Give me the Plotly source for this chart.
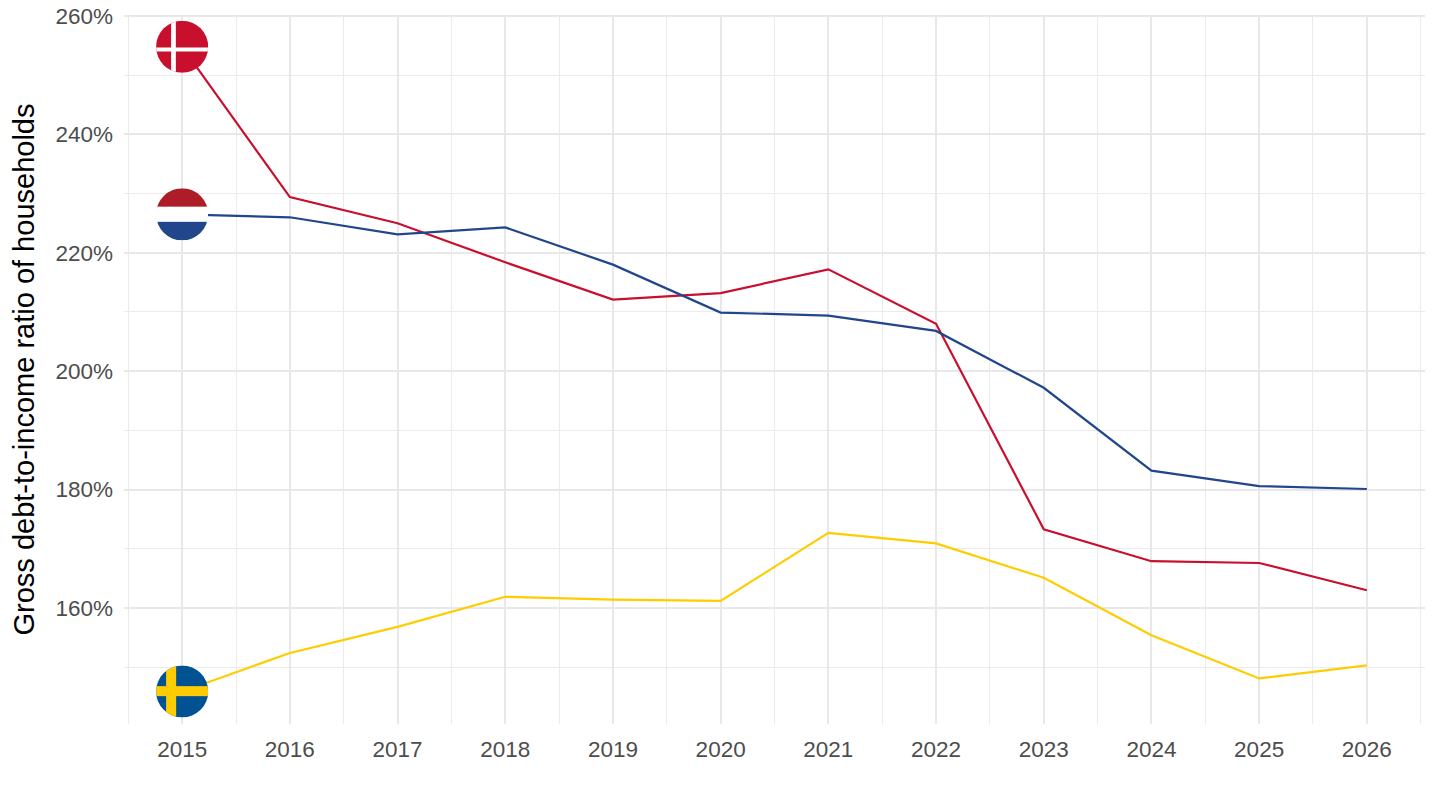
import base64
import plotly.graph_objects as go

years = [2015, 2016, 2017, 2018, 2019, 2020, 2021, 2022, 2023, 2024, 2025, 2026]
denmark = [254.8, 229.4, 225.0, 218.4, 212.1, 213.2, 217.2, 208.0, 173.3, 167.9, 167.6, 163.0]
netherlands = [226.5, 226.0, 223.1, 224.3, 218.0, 209.9, 209.4, 206.8, 197.2, 183.2, 180.6, 180.1]
sweden = [145.9, 152.4, 156.8, 161.9, 161.4, 161.2, 172.7, 170.9, 165.1, 155.4, 148.1, 150.3]

series_names = ["Denmark", "Netherlands", "Sweden"]
line_colors = ["#C8102E", "#21468B", "#FFCC00"]
y_ticks = [160, 180, 200, 220, 240, 260]
y_tick_text = ["160%", "180%", "200%", "220%", "240%", "260%"]
y_title = "Gross debt-to-income ratio of households"

def svg_uri(body):
    svg = ('<svg xmlns="http://www.w3.org/2000/svg" width="52" height="52" viewBox="0 0 52 52">'
           '<defs><clipPath id="c"><circle cx="26" cy="26" r="26"/></clipPath></defs>'
           '<g clip-path="url(#c)">' + body + '</g></svg>')
    return "data:image/svg+xml;base64," + base64.b64encode(svg.encode()).decode()

flag_dk = svg_uri('<rect width="52" height="52" fill="#C8102E"/>'
                  '<rect x="15" y="0" width="4.7" height="52" fill="#fff"/>'
                  '<rect x="0" y="26.7" width="52" height="4" fill="#fff"/>')
flag_nl = svg_uri('<rect width="52" height="18.5" fill="#AE1C28"/>'
                  '<rect y="18.5" width="52" height="15" fill="#fff"/>'
                  '<rect y="33.5" width="52" height="18.5" fill="#21468B"/>')
flag_se = svg_uri('<rect width="52" height="52" fill="#005293"/>'
                  '<rect x="10" y="0" width="10" height="52" fill="#FECC00"/>'
                  '<rect x="0" y="20.7" width="52" height="10" fill="#FECC00"/>')
flags = [flag_dk, flag_nl, flag_se]

fig = go.Figure()
all_series = [denmark, netherlands, sweden]
for name, vals, col in zip(series_names, all_series, line_colors):
    fig.add_trace(go.Scatter(x=years, y=vals, mode="lines", name=name,
                             line=dict(color=col, width=2.2), showlegend=False))

for vals, src in zip(all_series, flags):
    fig.add_layout_image(dict(source=src, xref="x", yref="y", x=years[0], y=vals[0],
                              sizex=0.484, sizey=8.8, xanchor="center", yanchor="middle",
                              sizing="stretch", layer="above"))

fig.update_layout(
    width=1440, height=810,
    margin=dict(l=124, r=15, t=15, b=86, autoexpand=False),
    paper_bgcolor="white", plot_bgcolor="white",
    font=dict(family="Liberation Sans, Arial, sans-serif", color="#4d4d4d", size=22.5),
)
fig.update_xaxes(range=[2014.46, 2026.54], tickmode="array", tickvals=years,
                 ticktext=[str(y) for y in years], automargin=False,
                 showgrid=True, gridcolor="#e8e8e8", gridwidth=2,
                 minor=dict(dtick=0.5, tick0=2014.5, showgrid=True, gridcolor="#ebebeb", gridwidth=1),
                 zeroline=False, showline=False, ticks="", ticklabelstandoff=9,
                 ticklabeloverflow="allow",
                 tickfont=dict(size=22.5, color="#4d4d4d"))
fig.update_yaxes(range=[140.4, 260.17], tickmode="array", tickvals=y_ticks, ticktext=y_tick_text,
                 automargin=False,
                 showgrid=True, gridcolor="#e8e8e8", gridwidth=2,
                 minor=dict(dtick=10, tick0=150, showgrid=True, gridcolor="#ebebeb", gridwidth=1),
                 zeroline=False, showline=False, ticks="", ticklabelstandoff=10,
                 ticklabeloverflow="allow",
                 tickfont=dict(size=22.5, color="#4d4d4d"),
                 title=dict(text=y_title, font=dict(size=29, color="black"), standoff=12))

fig.write_html("out.html", config={"displayModeBar": False},
               post_script="document.body.style.margin='0';")
